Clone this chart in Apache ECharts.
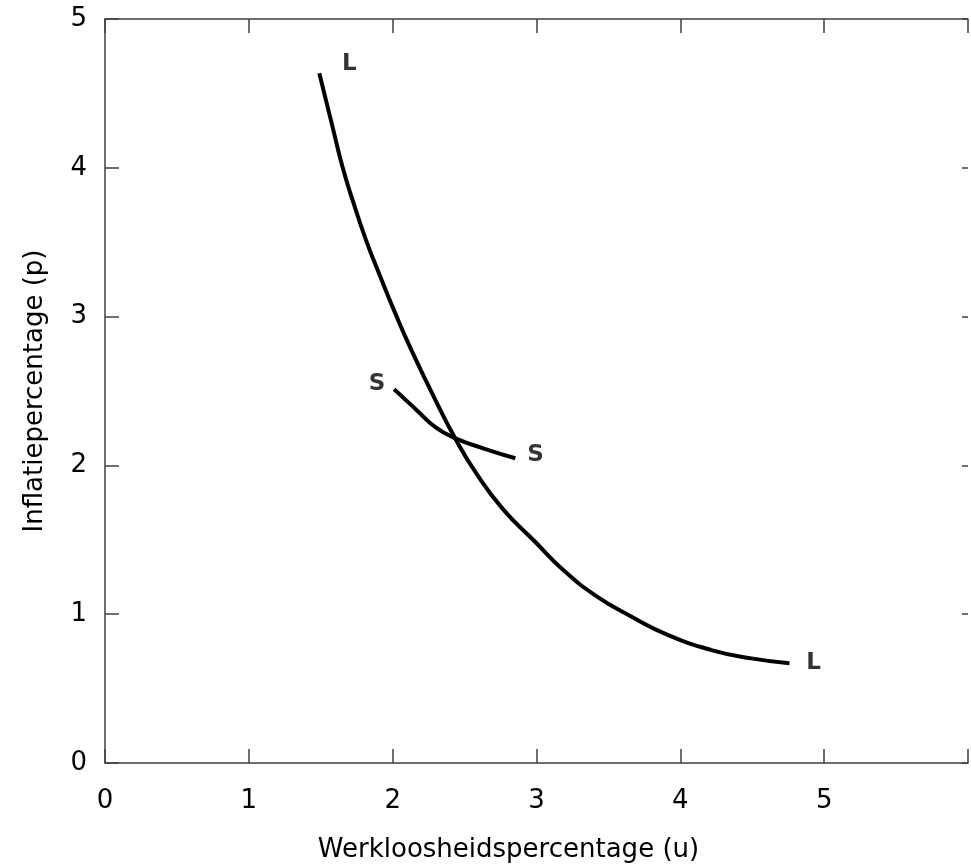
<!DOCTYPE html>
<html>
<head>
<meta charset="utf-8">
<script src="https://cdn.jsdelivr.net/npm/echarts@6/dist/echarts.min.js"></script>
<style>html,body{margin:0;padding:0;background:#fff}#c{width:971px;height:868px}</style>
</head>
<body>
<div id="c"></div>
<script>
// Curve LL (u, p)
var curveL = [
  [1.490, 4.635], [1.582, 4.275], [1.651, 4.007], [1.721, 3.784], [1.814, 3.516],
  [1.913, 3.271], [2.017, 3.025], [2.128, 2.780], [2.294, 2.445], [2.437, 2.177],
  [2.576, 1.954], [2.765, 1.708], [2.992, 1.485], [3.188, 1.295], [3.408, 1.127],
  [3.661, 0.983], [3.916, 0.859], [4.216, 0.759], [4.493, 0.703], [4.759, 0.670]
];
// Curve SS (u, p)
var curveS = [
  [2.010, 2.512], [2.160, 2.378], [2.299, 2.255], [2.437, 2.182], [2.645, 2.110], [2.853, 2.048]
];
// Curve labels (u, p, text)
var curveLabels = [
  [1.698, 4.695, 'L'], [4.927, 0.670, 'L'],
  [1.892, 2.545, 'S'], [2.994, 2.070, 'S']
];
var xTicks = [0, 1, 2, 3, 4, 5];
var yTicks = [0, 1, 2, 3, 4, 5];
var xName = 'Werkloosheidspercentage (u)';
var yName = 'Inflatiepercentage (p)';

var FONT = 'DejaVu Sans';
var axisLineStyle = {color: '#404040', width: 1.5};
var chart = echarts.init(document.getElementById('c'), null, {renderer: 'canvas'});
chart.setOption({
  animation: false,
  backgroundColor: '#fff',
  grid: {left: 105, top: 19, right: 0, bottom: 103},
  xAxis: [{
    type: 'value', min: 0, max: 6, interval: 1, position: 'bottom',
    axisLine: {show: true, onZero: false, lineStyle: axisLineStyle},
    axisTick: {show: true, inside: true, length: 14, lineStyle: axisLineStyle},
    splitLine: {show: false},
    axisLabel: {
      margin: 25, fontFamily: FONT, fontSize: 26, color: '#000',
      formatter: function (v) { return xTicks.indexOf(v) >= 0 ? String(v) : ''; }
    },
    name: xName, nameLocation: 'middle', nameGap: 74,
    nameTextStyle: {fontFamily: FONT, fontSize: 26, color: '#000', padding: [0, 56, 0, 0]}
  }, {
    type: 'value', min: 0, max: 6, interval: 1, position: 'top',
    axisLine: {show: true, onZero: false, lineStyle: axisLineStyle},
    axisTick: {show: true, inside: true, length: 14, lineStyle: axisLineStyle},
    axisLabel: {show: false}, splitLine: {show: false}
  }],
  yAxis: [{
    type: 'value', min: 0, max: 5, interval: 1, position: 'left',
    axisLine: {show: true, onZero: false, lineStyle: axisLineStyle},
    axisTick: {show: true, inside: true, length: 14, lineStyle: axisLineStyle},
    splitLine: {show: false},
    axisLabel: {
      margin: 18, fontFamily: FONT, fontSize: 26, color: '#000',
      formatter: function (v) { return yTicks.indexOf(v) >= 0 ? String(v) : ''; }
    },
    name: yName, nameLocation: 'middle', nameGap: 57,
    nameTextStyle: {fontFamily: FONT, fontSize: 26, color: '#000'}
  }, {
    type: 'value', min: 0, max: 5, interval: 1, position: 'right',
    axisLine: {show: false, onZero: false, lineStyle: axisLineStyle},
    axisTick: {show: true, inside: true, length: 6, lineStyle: axisLineStyle},
    axisLabel: {show: false}, splitLine: {show: false}
  }],
  series: [{
    type: 'line', data: curveL, smooth: 0.5, showSymbol: false,
    lineStyle: {color: '#000', width: 4}
  }, {
    type: 'line', data: curveS, smooth: 0.5, showSymbol: false,
    lineStyle: {color: '#000', width: 4}
  }, {
    type: 'scatter', symbolSize: 0,
    data: curveLabels.map(function (d) { return {value: [d[0], d[1]], name: d[2]}; }),
    label: {
      show: true, position: 'inside', formatter: '{b}',
      fontFamily: FONT, fontWeight: 'bold', fontSize: 23, color: '#000'
    }
  }]
});
</script>
</body>
</html>
